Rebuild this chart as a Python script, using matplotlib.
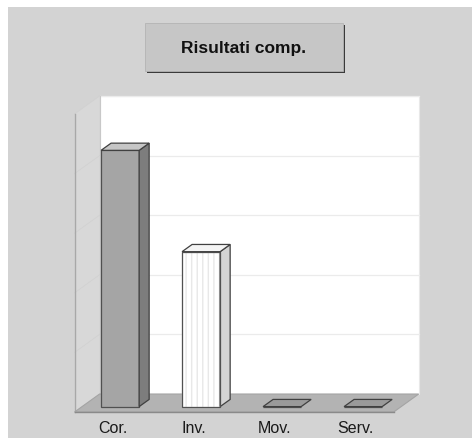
import matplotlib.pyplot as plt
from matplotlib.patches import Polygon, Rectangle

# dati del grafico
categorie = ["Cor.", "Inv.", "Mov.", "Serv."]
valori = [4.3, 2.6, 0, 0]
titolo = "Risultati comp."
n_righe = 5

# proiezione obliqua: profondita' (z=1) in unita' dati
DX = 0.309
DY = 0.302
z_front, z_back = 0.3, 0.7
larg = 0.47

fig = plt.figure(figsize=(4.72, 4.39), dpi=100)
fig.patch.set_facecolor("white")
fig.patches.append(Rectangle((8 / 472, -0.01), 1, 1.01 - 8 / 439, transform=fig.transFigure,
                             facecolor="#d3d3d3", edgecolor="none", zorder=-1))

ax = fig.add_axes([0, 0, 1, 1])
ax.set_xlim(-1.390, 4.437)
ax.set_ylim(-0.436, 6.930)
ax.axis("off")
ax.patch.set_alpha(0)

x0, x1 = -0.47, len(categorie) - 0.53


def p(x, y, z):
    return (x + z * DX, y + z * DY)


# parete di fondo
ax.add_patch(Polygon([p(x0, 0, 1), p(x1, 0, 1), p(x1, n_righe, 1), p(x0, n_righe, 1)],
                     facecolor="white", edgecolor="#e8e8e8", lw=0.8, zorder=1))
# parete sinistra
ax.add_patch(Polygon([p(x0, 0, 0), p(x0, 0, 1), p(x0, n_righe, 1), p(x0, n_righe, 0)],
                     facecolor="#d8d8d8", edgecolor="none", zorder=1))
ax.plot(*zip(p(x0, 0, 0), p(x0, n_righe, 0)), color="#a8a8a8", lw=1.0, zorder=2)
ax.plot(*zip(p(x0, 0, 1), p(x0, n_righe, 1)), color="#c8c8c8", lw=0.8, zorder=2)

# griglia
for k in range(1, n_righe + 1):
    ax.plot(*zip(p(x0, k, 1), p(x1, k, 1)), color="#ebebeb", lw=0.9, zorder=1.5)
    ax.plot(*zip(p(x0, k, 0), p(x0, k, 1)), color="#d0d0d0", lw=0.5, zorder=1.5)

# pavimento
ax.add_patch(Polygon([p(x0, 0, 0), p(x1, 0, 0), p(x1, 0, 1), p(x0, 0, 1)],
                     facecolor="#b3b3b3", edgecolor="#a4a4a4", lw=0.8, zorder=2))
ax.plot(*zip(p(x0, 0, 0), p(x1, 0, 0)), color="#8a8a8a", lw=1.0, zorder=2.1)

stili = [
    dict(front="#a5a5a5", side="#7d7d7d", top="#c6c6c6"),
    dict(front="#ffffff", side="#d4d4d4", top="#f4f4f4"),
    dict(front="#909090", side="#707070", top="#9a9a9a"),
    dict(front="#909090", side="#707070", top="#9a9a9a"),
]

xs = list(range(len(categorie)))
fronte = ax.bar([x + z_front * DX for x in xs], valori, width=larg, bottom=z_front * DY,
                color=[s["front"] for s in stili], edgecolor="#505050", lw=0.9, zorder=3)
fronte[1].set_hatch("|||")
fronte[1].set_edgecolor("#e8e8e8")
ax.bar([xs[1] + z_front * DX], [valori[1]], width=larg, bottom=z_front * DY,
       fill=False, edgecolor="#505050", lw=0.9, zorder=3.1)

for x, v, s in zip(xs, valori, stili):
    xl, xr = x - larg / 2, x + larg / 2
    if v > 0:
        ax.add_patch(Polygon([p(xr, 0, z_front), p(xr, 0, z_back), p(xr, v, z_back), p(xr, v, z_front)],
                             facecolor=s["side"], edgecolor="#404040", lw=0.9, zorder=3))
    ax.add_patch(Polygon([p(xl, v, z_front), p(xr, v, z_front), p(xr, v, z_back), p(xl, v, z_back)],
                         facecolor=s["top"], edgecolor="#404040", lw=0.9, zorder=3.2))
    ax.text(x, -0.26, categorie[x], ha="center", va="center", fontsize=11.5,
            family="Liberation Sans", color="#1a1a1a")

# riquadro del titolo
fig.patches.append(Rectangle((147 / 472, 1 - 74 / 439), 198 / 472, 48 / 439,
                             transform=fig.transFigure, facecolor="#3a3a3a",
                             edgecolor="none", zorder=1))
fig.patches.append(Rectangle((145 / 472, 1 - 72 / 439), 198 / 472, 48 / 439,
                             transform=fig.transFigure, facecolor="#c6c6c6",
                             edgecolor="#b4b4b4", lw=0.6, zorder=1))
fig.text(244 / 472, 1 - 49 / 439, titolo, ha="center", va="center", fontsize=12.5,
         fontweight="bold", family="Liberation Sans", color="#111111")

fig.savefig("out.png", dpi=100)
